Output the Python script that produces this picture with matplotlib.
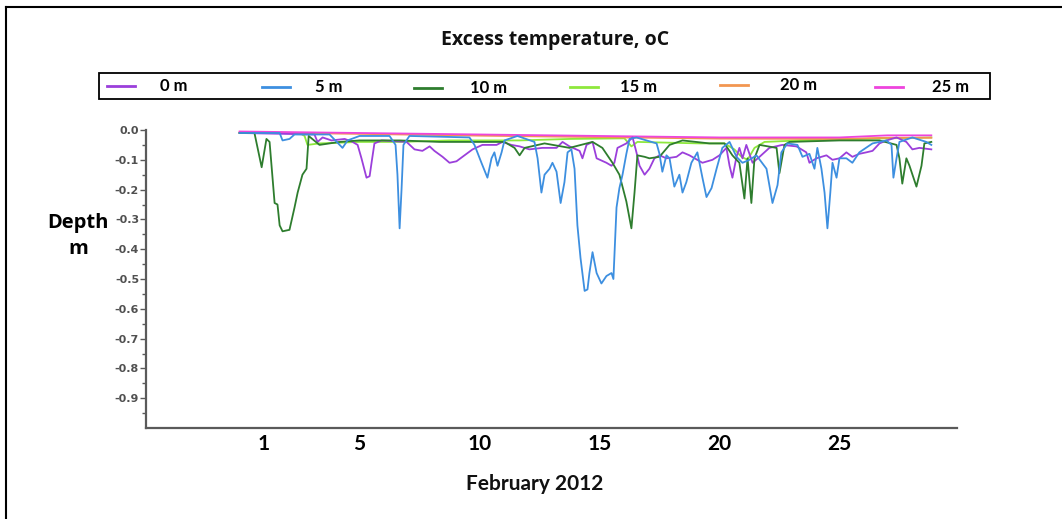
import matplotlib
matplotlib.use("Agg")
import matplotlib.pyplot as plt
from matplotlib.lines import Line2D
from matplotlib.patches import Rectangle

# ---------------- data (day of February 2012, excess temperature) ----------------
series_names = ["0 m", "5 m", "10 m", "15 m", "20 m", "25 m"]
series_colors = ["#9B3FDB", "#3D8FE0", "#2E7D2E", "#8EE83C", "#F29650", "#EE44DD"]

days_0m = [0, 3.12, 3.25, 3.46, 3.83, 4.38, 4.71, 4.92, 5.08, 5.29, 5.42, 5.5, 5.62, 5.92,
           6.96, 7.29, 7.62, 7.92, 8.12, 8.46, 8.75, 9.04, 9.29, 9.71, 10.12, 10.71, 10.96,
           11.33, 11.67, 12.08, 12.62, 13.21, 13.46, 13.75, 14.17, 14.29, 14.46, 14.71, 14.88,
           15.29, 15.5, 15.62, 15.75, 16.12, 16.38, 16.54, 16.67, 16.88, 17.08, 17.29, 17.5,
           17.79, 18.21, 18.46, 18.75, 19.29, 19.71, 20.0, 20.29, 20.42, 20.54, 20.71, 20.83,
           20.96, 21.12, 21.38, 21.67, 22.08, 22.62, 23.21, 23.62, 23.75, 24.04, 24.46, 24.71,
           25.0, 25.29, 25.54, 25.83, 26.12, 26.38, 26.67, 26.96, 27.38, 27.79, 28.04, 28.33, 28.83]
vals_0m = [-0.01, -0.015, -0.04, -0.025, -0.035, -0.03, -0.04, -0.05, -0.095, -0.16, -0.155,
           -0.11, -0.045, -0.035, -0.04, -0.065, -0.07, -0.055, -0.07, -0.09, -0.11, -0.105,
           -0.09, -0.065, -0.05, -0.05, -0.04, -0.05, -0.055, -0.065, -0.06, -0.06, -0.04,
           -0.055, -0.07, -0.095, -0.05, -0.04, -0.095, -0.11, -0.12, -0.11, -0.06, -0.045,
           -0.025, -0.075, -0.12, -0.15, -0.13, -0.095, -0.085, -0.095, -0.09, -0.075, -0.085,
           -0.11, -0.1, -0.085, -0.06, -0.12, -0.16, -0.09, -0.06, -0.095, -0.05, -0.11, -0.09,
           -0.06, -0.05, -0.055, -0.075, -0.11, -0.095, -0.085, -0.1, -0.095, -0.075, -0.09,
           -0.08, -0.075, -0.07, -0.045, -0.035, -0.025, -0.04, -0.065, -0.06, -0.065]

days_5m = [0, 1.67, 1.79, 2.08, 2.29, 3.75, 4.29, 4.5, 5.0, 6.25, 6.5, 6.58, 6.67, 6.75, 6.83,
           7.08, 9.58, 9.79, 10.08, 10.33, 10.5, 10.62, 10.75, 10.92, 11.04, 11.58, 12.29,
           12.42, 12.58, 12.71, 12.92, 13.04, 13.21, 13.38, 13.54, 13.67, 13.83, 13.96, 14.08,
           14.21, 14.38, 14.5, 14.58, 14.71, 14.88, 15.08, 15.29, 15.5, 15.58, 15.71, 15.83,
           15.96, 16.12, 16.25, 16.54, 16.96, 17.38, 17.5, 17.62, 17.79, 17.92, 18.12, 18.33,
           18.46, 18.62, 18.83, 19.08, 19.29, 19.46, 19.67, 19.88, 20.12, 20.42, 20.71, 20.96,
           21.25, 21.54, 21.96, 22.21, 22.42, 22.58, 22.83, 23.25, 23.46, 23.75, 23.96, 24.08,
           24.25, 24.38, 24.5, 24.62, 24.71, 24.88, 25.0, 25.29, 25.54, 25.83, 26.38, 26.96,
           27.17, 27.25, 27.38, 27.5, 28.04, 28.62, 28.83]
vals_5m = [-0.01, -0.01, -0.035, -0.03, -0.015, -0.015, -0.06, -0.035, -0.02, -0.02, -0.05,
           -0.15, -0.33, -0.2, -0.05, -0.02, -0.025, -0.05, -0.11, -0.16, -0.095, -0.075, -0.12,
           -0.075, -0.035, -0.02, -0.04, -0.095, -0.21, -0.15, -0.13, -0.11, -0.14, -0.245,
           -0.175, -0.075, -0.065, -0.13, -0.32, -0.43, -0.54, -0.535, -0.48, -0.41, -0.48,
           -0.515, -0.49, -0.48, -0.5, -0.26, -0.195, -0.15, -0.08, -0.03, -0.025, -0.035,
           -0.045, -0.08, -0.14, -0.085, -0.095, -0.19, -0.15, -0.21, -0.175, -0.11, -0.075,
           -0.16, -0.225, -0.195, -0.13, -0.06, -0.04, -0.09, -0.11, -0.1, -0.085, -0.13,
           -0.245, -0.185, -0.075, -0.045, -0.05, -0.09, -0.08, -0.13, -0.06, -0.13, -0.21,
           -0.33, -0.21, -0.11, -0.16, -0.095, -0.095, -0.11, -0.075, -0.045, -0.035, -0.05,
           -0.16, -0.095, -0.04, -0.025, -0.04, -0.05]

days_10m = [0, 0.62, 0.92, 1.12, 1.25, 1.46, 1.58, 1.67, 1.79, 2.08, 2.29, 2.42, 2.62, 2.79,
            2.88, 3.33, 4.17, 5.0, 6.67, 8.33, 10.0, 11.04, 11.46, 11.67, 11.88, 12.71, 13.75,
            14.71, 15.12, 15.54, 15.83, 16.12, 16.33, 16.46, 16.58, 16.88, 17.08, 17.5, 17.92,
            18.46, 19.58, 20.21, 20.54, 20.83, 21.04, 21.17, 21.33, 21.46, 21.67, 22.38, 22.5,
            22.71, 22.92, 25.0, 26.67, 27.38, 27.5, 27.62, 27.79, 27.92, 28.21, 28.42, 28.54, 28.83]
vals_10m = [-0.01, -0.01, -0.125, -0.03, -0.04, -0.245, -0.25, -0.32, -0.34, -0.335, -0.26,
            -0.21, -0.15, -0.13, -0.02, -0.05, -0.04, -0.035, -0.035, -0.04, -0.04, -0.04,
            -0.06, -0.085, -0.06, -0.045, -0.06, -0.04, -0.06, -0.11, -0.15, -0.24, -0.33,
            -0.21, -0.085, -0.09, -0.095, -0.09, -0.05, -0.035, -0.045, -0.045, -0.085, -0.11,
            -0.23, -0.095, -0.245, -0.095, -0.05, -0.06, -0.145, -0.05, -0.04, -0.035, -0.035,
            -0.05, -0.095, -0.18, -0.095, -0.12, -0.19, -0.12, -0.045, -0.04]

days_15m = [0, 2.5, 2.71, 2.83, 3.33, 5.0, 6.67, 8.75, 11.67, 13.75, 16.04, 16.33, 16.58,
            19.17, 20.21, 20.62, 20.92, 21.17, 21.46, 21.88, 23.33, 25.83, 28.83]
vals_15m = [-0.01, -0.01, -0.02, -0.05, -0.045, -0.04, -0.04, -0.035, -0.035, -0.03, -0.028,
            -0.055, -0.04, -0.045, -0.045, -0.065, -0.09, -0.1, -0.06, -0.04, -0.035, -0.03,
            -0.025]

days_20m = [0, 5, 10, 15, 20, 25, 27, 28.83]
vals_20m = [-0.008, -0.013, -0.019, -0.024, -0.029, -0.03, -0.026, -0.026]

days_25m = [0, 5, 10, 15, 20, 25, 27, 28.83]
vals_25m = [-0.005, -0.01, -0.015, -0.02, -0.025, -0.025, -0.018, -0.018]

x_ticks = [1, 5, 10, 15, 20, 25]
y_ticks = [0.0, -0.1, -0.2, -0.3, -0.4, -0.5, -0.6, -0.7, -0.8, -0.9]

series_days = [days_0m, days_5m, days_10m, days_15m, days_20m, days_25m]
series_vals = [vals_0m, vals_5m, vals_10m, vals_15m, vals_20m, vals_25m]

# ---------------- figure ----------------
W, H = 1062, 519
fig = plt.figure(figsize=(W / 100, H / 100), dpi=100)
fig.patch.set_facecolor("white")

ax = fig.add_axes([146 / W, 1 - 428 / H, (957 - 146) / W, (428 - 130) / H])

zorders = {0: 3, 1: 4, 2: 3.5, 3: 2, 4: 2.2, 5: 2.4}
for i in [3, 4, 5, 0, 1, 2]:
    ax.plot(series_days[i], series_vals[i], color=series_colors[i], lw=1.3,
            zorder=zorders[i], solid_joinstyle="round")

ax.set_xlim(-3.9, 29.9)
ax.set_ylim(-1.0, 0.0)

for s in ["top", "right"]:
    ax.spines[s].set_visible(False)
for s in ["left", "bottom"]:
    ax.spines[s].set_color("#5a5a5a")
    ax.spines[s].set_linewidth(1.6)

ax.set_yticks(y_ticks)
ax.set_yticklabels([f"{v:.1f}" for v in y_ticks],
                   fontsize=8, fontweight="bold", color="#505050")
ax.set_yticks([-0.05 - 0.1 * k for k in range(10)], minor=True)
ax.tick_params(axis="y", which="major", direction="out", length=4, width=1, color="#5a5a5a", pad=1)
ax.tick_params(axis="y", which="minor", direction="out", length=3, width=1, color="#5a5a5a")

ax.set_xticks(x_ticks)
ax.set_xticklabels([str(t) for t in x_ticks], fontsize=15, fontweight="bold",
                   color="black", family="Lato")
ax.tick_params(axis="x", length=0, pad=4)

# titles and axis labels
fig.text(555 / W, 1 - 40 / H, "Excess temperature, oC", ha="center", va="center",
         fontsize=14, fontweight="bold", color="#111111", family="Open Sans")
fig.text(78 / W, 1 - 236 / H, "Depth\nm", ha="center", va="center",
         fontsize=14.5, fontweight="bold", color="black", linespacing=1.45, family="Open Sans")
fig.text(535 / W, 1 - 484 / H, "February 2012", ha="center", va="center",
         fontsize=15, fontweight="bold", color="#111111", family="Lato")

# legend box (manual, matching the reference layout)
fig.add_artist(Rectangle((99 / W, 1 - 99 / H), (990 - 99) / W, (99 - 73) / H,
                         transform=fig.transFigure, fill=False, edgecolor="black", lw=1.3))
leg_line_x = [107, 262, 414, 570, 720, 875]
leg_text_x = [160, 315, 470, 620, 780, 932]
leg_y = [86, 87, 88, 87, 85, 87]
for i in range(6):
    y = 1 - leg_y[i] / H
    fig.add_artist(Line2D([leg_line_x[i] / W, (leg_line_x[i] + 28) / W], [y, y],
                          transform=fig.transFigure, color=series_colors[i], lw=2))
    fig.text(leg_text_x[i] / W, y, series_names[i], ha="left", va="center",
             fontsize=12, fontweight="bold", color="black", family="Lato")

# outer frame (left and top edges)
fig.add_artist(Line2D([6 / W, 6 / W], [0, 1 - 7 / H], transform=fig.transFigure,
                      color="black", lw=1.5))
fig.add_artist(Line2D([6 / W, 1], [1 - 7 / H, 1 - 7 / H], transform=fig.transFigure,
                      color="black", lw=1.5))

fig.savefig("out.png", dpi=100)
